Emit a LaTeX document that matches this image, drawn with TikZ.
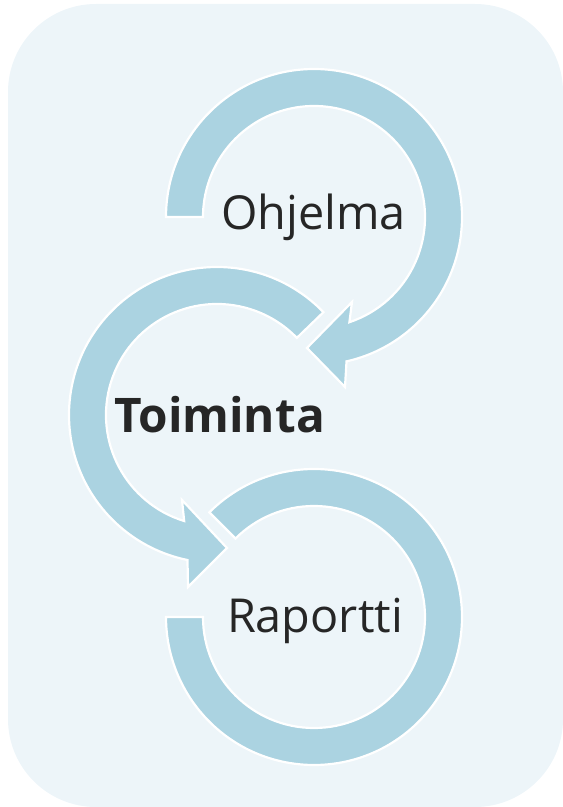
\documentclass[tikz,border=0pt]{standalone}
\usepackage{fontspec}
\setmainfont{Open Sans}
\usetikzlibrary{calc}
\definecolor{bgc}{HTML}{EDF5F9}
\definecolor{ringc}{HTML}{ABD3E1}
\definecolor{txtc}{HTML}{262626}
\begin{document}
\begin{tikzpicture}[x=1pt,y=1pt,
  ring/.style={fill=ringc, draw=white, line width=2.2pt, line join=miter},
  lbl/.style={text=txtc, font=\fontsize{46.8}{54}\selectfont, inner sep=0pt}]
\useasboundingbox (0,0) rectangle (563,807);
\fill[bgc, rounded corners=88pt] (8,0) rectangle (563,803);
\coordinate (C1) at (314,590);
\coordinate (C2) at (217,392);
\coordinate (C3) at (314,190);
% top ring: Ohjelma
\draw[ring] ($(C1)+(180:148pt)$) arc[start angle=180,end angle=-77.3,radius=148pt]
  -- (345,420) -- (307,459) -- (352,505)
  -- ($(C1)+(-71.4:111pt)$) arc[start angle=-71.4,end angle=180,radius=111pt] -- cycle;
% middle ring: Toiminta
\draw[ring] ($(C2)+(44:148pt)$) arc[start angle=44,end angle=258.5,radius=148pt]
  -- (188,220) -- (227,259) -- (182,307)
  -- ($(C2)+(252.8:111pt)$) arc[start angle=252.8,end angle=44,radius=111pt] -- cycle;
% bottom ring: Raportti
\draw[ring] ($(C3)+(135:148pt)$) arc[start angle=135,end angle=-180,radius=148pt]
  -- ($(C3)+(180:111pt)$) arc[start angle=-180,end angle=135,radius=111pt] -- cycle;
\node[lbl, anchor=base] (ohj) at (313.5,577) {Ohjelma};
\node[lbl, anchor=base, font=\bfseries\fontsize{47.7}{56}\selectfont] (toi) at (219.5,374) {Toiminta};
\node[lbl, anchor=base] (rap) at (315,174) {Raportti};
\end{tikzpicture}
\end{document}
